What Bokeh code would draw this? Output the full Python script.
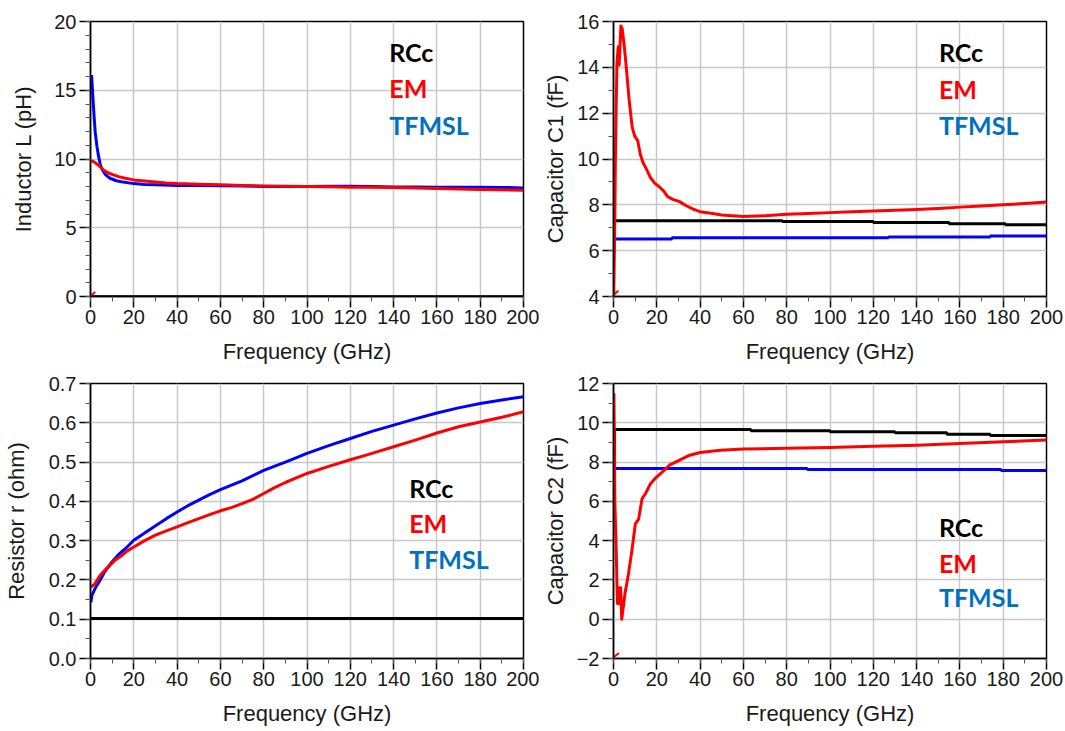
from bokeh.plotting import figure
from bokeh.layouts import gridplot
from bokeh.models import Range1d, FixedTicker, PrintfTickFormatter, Label
from bokeh.embed import file_html
from bokeh.resources import INLINE

# ---------------- data ----------------
# Inductor L (pH)
f_L_em = [0.3, 2, 4, 6, 8, 10, 13, 16, 20, 25, 30, 35, 40, 50, 60, 70, 80, 90,
          100, 110, 120, 130, 140, 150, 160, 170, 180, 190, 200]
L_em = [9.9, 9.75, 9.5, 9.2, 9.0, 8.88, 8.72, 8.6, 8.48, 8.4, 8.33, 8.26, 8.21,
        8.17, 8.13, 8.08, 8.04, 8.02, 8.0, 7.98, 7.95, 7.94, 7.92, 7.89, 7.86,
        7.82, 7.79, 7.76, 7.73]
f_L_tf = [0.5, 1.1, 1.7, 2.2, 3.0, 3.6, 4.5, 5.5, 7, 9, 12, 15, 20, 25, 30, 40,
          50, 60, 70, 80, 90, 100, 110, 120, 130, 140, 150, 160, 170, 180, 190, 200]
L_tf = [16.1, 14.5, 13.0, 11.9, 10.9, 10.3, 9.6, 9.2, 8.85, 8.6, 8.42, 8.32,
        8.21, 8.15, 8.12, 8.08, 8.07, 8.06, 8.03, 8.0, 8.0, 8.0, 8.02, 8.02, 8.0,
        7.97, 7.96, 7.95, 7.95, 7.95, 7.93, 7.9]
f_L_rc = [0, 200]
L_rc = [0.0, 0.0]
f_L_em0 = [0.1, 2.2]
L_em0 = [0.05, 0.32]

# Capacitor C1 (fF)
f_C1_em = [0.1, 0.5, 0.8, 1.2, 1.6, 2.2, 2.6, 3.4, 4.0, 5.0, 6.0, 7.2, 8.6, 9.8,
           11.2, 12.4, 13.6, 15.0, 17.0, 19.0, 21.0, 23.0, 25.0, 27.4, 30.5,
           33.6, 36.8, 40, 45, 50, 55, 60, 70, 80, 90, 100, 110, 120, 130, 140,
           150, 160, 170, 180, 190, 200]
C1_em = [4.05, 6.5, 9.5, 12.0, 14.2, 14.9, 14.1, 15.8, 15.7, 14.9, 13.9, 12.6,
         11.4, 11.0, 10.8, 10.2, 9.85, 9.6, 9.2, 8.95, 8.8, 8.62, 8.36, 8.24,
         8.14, 7.96, 7.81, 7.7, 7.63, 7.56, 7.52, 7.49, 7.52, 7.59, 7.62, 7.66,
         7.7, 7.73, 7.76, 7.8, 7.84, 7.9, 7.95, 8.0, 8.06, 8.12]
f_C1_rc = [0, 0.5, 78, 120, 155, 181, 200]
C1_rc = [9.6, 7.31, 7.27, 7.23, 7.17, 7.13, 7.13]
f_C1_tf = [0.5, 27, 127, 174, 200]
C1_tf = [6.51, 6.56, 6.6, 6.645, 6.645]
f_C1_em0 = [0.1, 2.3]
C1_em0 = [4.08, 4.25]

# Resistor r (ohm)
f_r_em = [0.2, 2, 4.4, 6.7, 9.8, 11.3, 14.6, 17, 20, 25, 30, 35, 40, 45, 50, 55,
          60, 65, 70, 75, 80, 85, 90, 95, 100, 110, 120, 130, 140, 150, 160, 170,
          180, 190, 200]
r_em = [0.182, 0.19, 0.211, 0.225, 0.242, 0.25, 0.263, 0.274, 0.284, 0.3, 0.314,
        0.325, 0.335, 0.346, 0.356, 0.366, 0.376, 0.384, 0.394, 0.405, 0.42,
        0.435, 0.448, 0.46, 0.471, 0.489, 0.506, 0.522, 0.539, 0.556, 0.574,
        0.59, 0.602, 0.614, 0.628]
f_r_tf = [0.2, 0.6, 2.1, 4.4, 6.7, 9.8, 13, 16.2, 20, 25.7, 30.4, 35, 40, 45, 50,
          55, 60, 70, 80, 90, 100, 110, 120, 130, 140, 150, 160, 170, 180, 190, 200]
r_tf = [0.143, 0.16, 0.178, 0.199, 0.222, 0.245, 0.265, 0.28, 0.301, 0.322,
        0.339, 0.356, 0.373, 0.389, 0.403, 0.417, 0.43, 0.452, 0.479, 0.5, 0.522,
        0.542, 0.56, 0.578, 0.594, 0.61, 0.625, 0.638, 0.649, 0.658, 0.666]
f_r_rc = [0, 200]
r_rc = [0.102, 0.102]

# Capacitor C2 (fF)
f_C2_em = [0.2, 0.6, 1.2, 1.8, 2.5, 2.8, 3.3, 3.8, 5.3, 6.9, 8.5, 10.1, 11.6,
           13.2, 14.8, 17.1, 19.5, 22.6, 25.8, 30.5, 35.2, 40, 49.4, 60, 80, 100,
           120, 140, 160, 180, 200]
C2_em = [11.5, 6.0, 3.8, 0.8, 0.8, 1.6, 1.6, 0.0, 1.3, 2.3, 3.5, 4.86, 5.1, 6.14,
         6.4, 6.9, 7.2, 7.5, 7.84, 8.1, 8.35, 8.49, 8.6, 8.67, 8.7, 8.74, 8.81,
         8.86, 8.95, 9.03, 9.12]
f_C2_rc = [0, 0.5, 63.5, 100, 130, 154, 174, 200]
C2_rc = [6.1, 9.66, 9.59, 9.54, 9.49, 9.42, 9.35, 9.35]
f_C2_tf = [0.2, 89.5, 179, 200]
C2_tf = [7.67, 7.62, 7.57, 7.57]
f_C2_em0 = [0.2, 2.5]
C2_em0 = [-1.92, -1.72]

series_names = ["RCc", "EM", "TFMSL"]
x_ticks = list(range(0, 201, 20))
x_minor = list(range(0, 201, 10))

# ---------------- styling ----------------
FONT = "Liberation Sans"
TXT = "#1a1a1a"
RED = "#FF0000"
BLUE = "#0000FF"
BLACK = "#000000"
KEY_COLORS = ["#000000", "#FF0000", "#0070C0"]


def make_panel(width, height, left, right, top, bottom, yr, yticks, yminor,
               ylabel, ylab_standoff, fmt=None):
    p = figure(width=width, height=height, output_backend="svg",
               toolbar_location=None, x_range=Range1d(0, 200),
               y_range=Range1d(*yr), min_border_left=left,
               min_border_right=right, min_border_top=top,
               min_border_bottom=bottom)
    p.background_fill_color = "white"
    p.border_fill_color = "white"
    p.outline_line_color = "black"
    p.outline_line_width = 1.5
    p.outline_line_alpha = 1.0

    p.xaxis.ticker = FixedTicker(ticks=x_ticks, minor_ticks=x_minor)
    p.yaxis.ticker = FixedTicker(ticks=yticks, minor_ticks=yminor)
    if fmt:
        p.yaxis.formatter = PrintfTickFormatter(format=fmt)

    for ax in (p.xaxis[0], p.yaxis[0]):
        ax.axis_line_width = 1.5
        ax.axis_line_color = "black"
        ax.major_tick_line_width = 1.5
        ax.major_tick_line_color = "black"
        ax.minor_tick_line_width = 1
        ax.minor_tick_line_color = "#555555"
        ax.major_tick_in = 0
        ax.major_tick_out = 11
        ax.minor_tick_in = 0
        ax.minor_tick_out = 5
        ax.major_label_text_font = FONT
        ax.major_label_text_font_size = "20px"
        ax.major_label_text_color = TXT
        ax.axis_label_text_font = FONT
        ax.axis_label_text_font_size = "22px"
        ax.axis_label_text_font_style = "normal"
        ax.axis_label_text_color = TXT

    p.xaxis.axis_label = "Frequency (GHz)"
    p.xaxis.major_label_standoff = 2
    p.xaxis.axis_label_standoff = 12
    p.yaxis.axis_label = ylabel
    p.yaxis.major_label_standoff = 3
    p.yaxis.axis_label_standoff = ylab_standoff

    for g in (p.xgrid[0], p.ygrid[0]):
        g.grid_line_color = "#C8C8C8"
        g.grid_line_width = 1.5
    return p


def add_key(p, x, ys):
    for name, color, y in zip(series_names, KEY_COLORS, ys):
        p.add_layout(Label(x=x, y=y, text=name, text_color=color,
                           text_font="Lato", text_font_style="bold",
                           text_font_size="25px", text_baseline="alphabetic"))


LW = 3

# Inductor L
p1 = make_panel(539, 370, 88, 16, 21, 74, (0, 20), [0, 5, 10, 15, 20],
                list(range(0, 21)), "Inductor L (pH)", 15)
p1.line(f_L_rc, L_rc, line_color=BLACK, line_width=2.5)
p1.line(f_L_tf, L_tf, line_color=BLUE, line_width=LW, line_join="round")
p1.line(f_L_em, L_em, line_color=RED, line_width=LW, line_join="round")
p1.line(f_L_em0, L_em0, line_color=RED, line_width=2)
add_key(p1, 138, [17.8, 15.13, 12.48])

# Capacitor C1
p2 = make_panel(526, 370, 72, 19, 21, 74, (4, 16), list(range(4, 17, 2)),
                list(range(4, 17)), "Capacitor C1 (fF)", 6)
p2.step(f_C1_rc, C1_rc, mode="after", line_color=BLACK, line_width=LW)
p2.step(f_C1_tf, C1_tf, mode="after", line_color=BLUE, line_width=LW)
p2.line(f_C1_em, C1_em, line_color=RED, line_width=LW, line_join="round")
p2.line(f_C1_em0, C1_em0, line_color=RED, line_width=2)
add_key(p2, 150.3, [14.66, 13.06, 11.48])

# Resistor r
p3 = make_panel(539, 361, 88, 16, 13, 73, (0, 0.7),
                [round(0.1 * i, 1) for i in range(8)],
                [round(0.05 * i, 2) for i in range(15)],
                "Resistor r (ohm)", 17, fmt="%.1f")
p3.line(f_r_rc, r_rc, line_color=BLACK, line_width=LW)
p3.line(f_r_tf, r_tf, line_color=BLUE, line_width=LW, line_join="round")
p3.line(f_r_em, r_em, line_color=RED, line_width=LW, line_join="round")
add_key(p3, 147.2, [0.435, 0.3445, 0.254])

# Capacitor C2
p4 = make_panel(526, 361, 72, 19, 13, 73, (-2, 12), list(range(-2, 13, 2)),
                list(range(-2, 13)), "Capacitor C2 (fF)", 6)
p4.step(f_C2_rc, C2_rc, mode="after", line_color=BLACK, line_width=LW)
p4.step(f_C2_tf, C2_tf, mode="after", line_color=BLUE, line_width=LW)
p4.line(f_C2_em, C2_em, line_color=RED, line_width=LW, line_join="round")
p4.line(f_C2_em0, C2_em0, line_color=RED, line_width=2)
add_key(p4, 150.3, [4.72, 2.88, 1.15])

grid = gridplot([[p1, p2], [p3, p4]], toolbar_location=None)

open("out.html", "w").write(file_html(grid, INLINE))
